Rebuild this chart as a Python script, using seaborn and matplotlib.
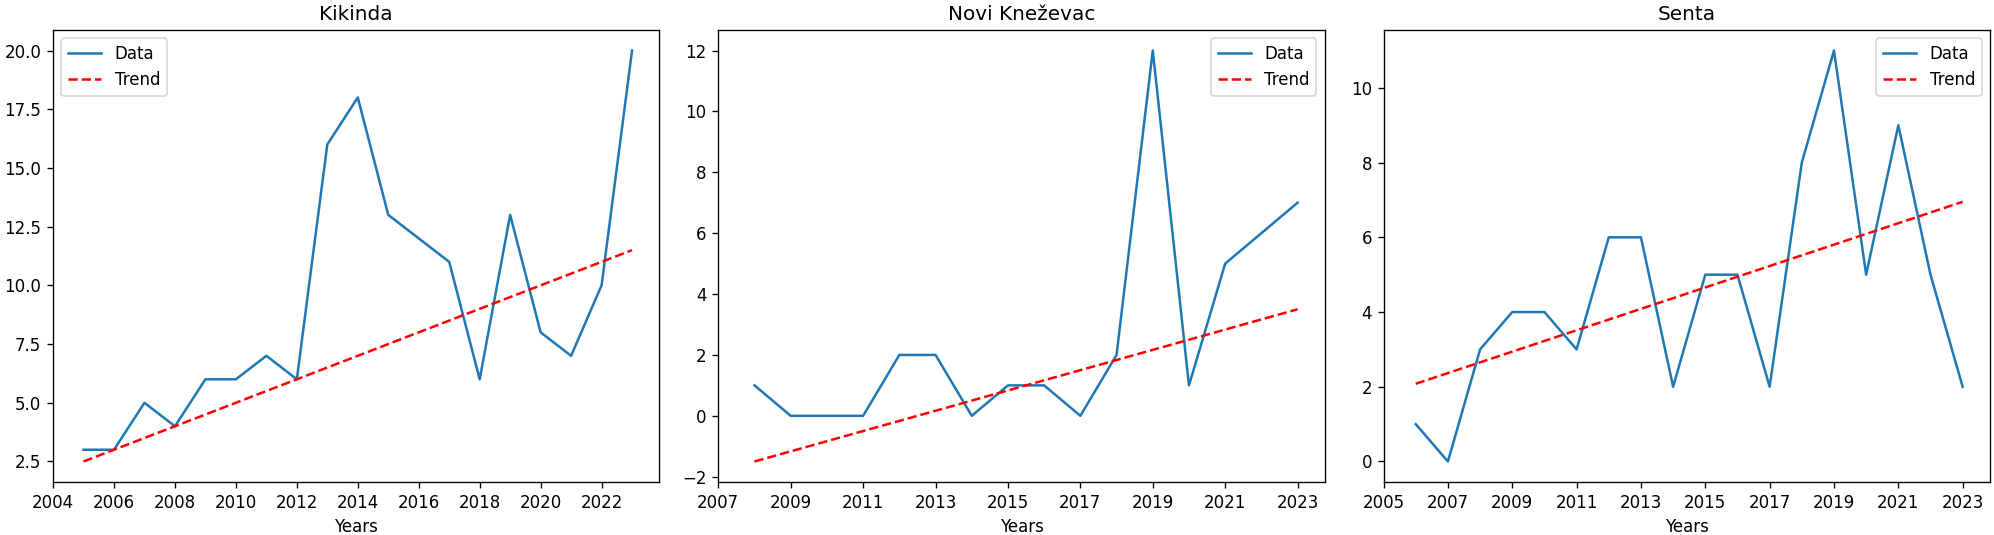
import numpy as np
import pandas as pd
import matplotlib
matplotlib.use("Agg")
import matplotlib.pyplot as plt
import seaborn as sns

# Kikinda
kikinda_years = [2005, 2006, 2007, 2008, 2009, 2010, 2011, 2012, 2013, 2014,
                 2015, 2016, 2017, 2018, 2019, 2020, 2021, 2022, 2023]
kikinda_values = [3, 3, 5, 4, 6, 6, 7, 6, 16, 18, 13, 12, 11, 6, 13, 8, 7, 10, 20]
kikinda_trend = [2.5, 11.5]

# Novi Kneževac
novi_years = [2008, 2009, 2010, 2011, 2012, 2013, 2014, 2015, 2016, 2017,
              2018, 2019, 2020, 2021, 2022, 2023]
novi_values = [1, 0, 0, 0, 2, 2, 0, 1, 1, 0, 2, 12, 1, 5, 6, 7]
novi_trend = [-1.5, 3.5]

# Senta
senta_years = [2006, 2007, 2008, 2009, 2010, 2011, 2012, 2013, 2014, 2015,
               2016, 2017, 2018, 2019, 2020, 2021, 2022, 2023]
senta_values = [1, 0, 3, 4, 4, 3, 6, 6, 2, 5, 5, 2, 8, 11, 5, 9, 5, 2]
senta_trend = [2.08, 6.95]

panels = [
    ("Kikinda", kikinda_years, kikinda_values, kikinda_trend,
     (2004, 2023.9), list(range(2004, 2023, 2)), "upper left"),
    ("Novi Kneževac", novi_years, novi_values, novi_trend,
     (2007, 2023.75), list(range(2007, 2024, 2)), "upper right"),
    ("Senta", senta_years, senta_values, senta_trend,
     (2005, 2023.85), list(range(2005, 2024, 2)), "upper right"),
]

fig, axes = plt.subplots(1, 3, figsize=(1994 / 120, 535 / 120), dpi=120)
fig.subplots_adjust(left=0.0266, right=0.998, bottom=0.099, top=0.944, wspace=0.097)

for ax, (name, years, values, trend, xlim, xticks, loc) in zip(axes, panels):
    df = pd.DataFrame({"Year": years, "Value": values})
    sns.lineplot(data=df, x="Year", y="Value", ax=ax, label="Data",
                 color="#1f77b4", linewidth=1.5)
    trend_df = pd.DataFrame({"Year": [years[0], years[-1]], "Value": trend})
    sns.lineplot(data=trend_df, x="Year", y="Value", ax=ax, label="Trend",
                 color="red", linestyle="--", linewidth=1.5)
    ax.set_title(name)
    ax.set_xlabel("Years")
    ax.set_ylabel("")
    ax.set_xlim(*xlim)
    ax.set_xticks(xticks)
    ax.legend(loc=loc)

plt.savefig("out.png", dpi=120)
